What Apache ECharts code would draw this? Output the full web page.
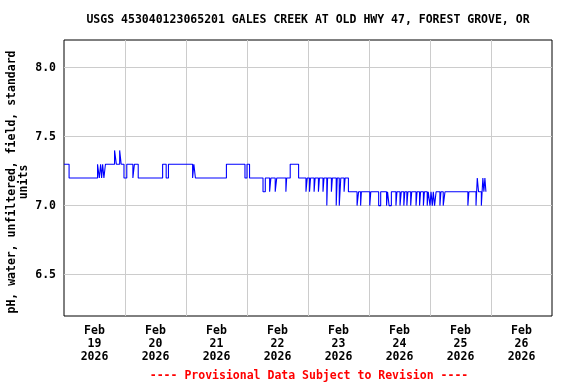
<!DOCTYPE html>
<html><head><meta charset="utf-8">
<script src="https://cdn.jsdelivr.net/npm/echarts@6/dist/echarts.min.js"></script>
<style>html,body{margin:0;padding:0;background:#fff}#c{width:576px;height:384px}</style>
</head><body><div id="c"></div>
<script>
const titleText = 'USGS 453040123065201 GALES CREEK AT OLD HWY 47, FOREST GROVE, OR';
const yTitleLine1 = 'pH, water, unfiltered, field, standard';
const yTitleLine2 = 'units';
const footerText = '---- Provisional Data Subject to Revision ----';
// hours since 2026-02-19 00:00
const dayCenters = [12, 36, 60, 84, 108, 132, 156, 180];
const dayLabels = ['Feb\n19\n2026', 'Feb\n20\n2026', 'Feb\n21\n2026', 'Feb\n22\n2026', 'Feb\n23\n2026', 'Feb\n24\n2026', 'Feb\n25\n2026', 'Feb\n26\n2026'];
const dayBounds = [24, 48, 72, 96, 120, 144, 168];
const yTicks = [6.5, 7.0, 7.5, 8.0];
const timeHours = [0, 2.0, 13.2, 13.9, 14.4, 14.8, 15.2, 15.7, 16.3, 19.9, 20.6, 21.9, 22.5, 23.6, 24.7, 27.1, 27.7, 29.2, 38.8, 40.2, 41.1, 50.6, 51.1, 51.7, 63.9, 71.2, 72.0, 73.0, 78.3, 79.2, 80.9, 81.4, 83.1, 83.7, 87.3, 87.6, 89.0, 92.3, 95.2, 95.7, 96.6, 97.0, 98.4, 98.8, 100.1, 100.5, 101.9, 102.3, 103.4, 103.7, 105.2, 105.6, 107.1, 107.5, 108.3, 108.9, 110.2, 110.6, 111.9, 115.3, 115.9, 116.7, 117.0, 120.3, 120.7, 123.8, 124.6, 126.9, 127.3, 127.9, 128.8, 130.6, 131.0, 132.2, 132.7, 133.7, 134.1, 134.9, 135.3, 136.4, 136.8, 138.5, 138.9, 139.9, 140.3, 141.4, 141.8, 142.9, 143.3, 144.0, 144.4, 144.9, 145.3, 145.8, 146.4, 147.9, 148.3, 149.2, 149.9, 158.9, 159.3, 162.1, 162.6, 163.1, 164.2, 164.5, 164.8, 165.2, 165.6, 166.0, 166.2];
const phValues = [7.3, 7.2, 7.3, 7.2, 7.3, 7.2, 7.3, 7.2, 7.3, 7.4, 7.3, 7.4, 7.3, 7.2, 7.3, 7.2, 7.3, 7.2, 7.3, 7.2, 7.3, 7.2, 7.3, 7.2, 7.3, 7.2, 7.3, 7.2, 7.1, 7.2, 7.1, 7.2, 7.1, 7.2, 7.1, 7.2, 7.3, 7.2, 7.1, 7.2, 7.1, 7.2, 7.1, 7.2, 7.1, 7.2, 7.1, 7.2, 7.0, 7.2, 7.1, 7.2, 7.0, 7.2, 7.0, 7.2, 7.1, 7.2, 7.1, 7.0, 7.1, 7.0, 7.1, 7.0, 7.1, 7.0, 7.1, 7.0, 7.1, 7.0, 7.1, 7.0, 7.1, 7.0, 7.1, 7.0, 7.1, 7.0, 7.1, 7.0, 7.1, 7.0, 7.1, 7.0, 7.1, 7.0, 7.1, 7.0, 7.1, 7.0, 7.1, 7.0, 7.1, 7.0, 7.1, 7.0, 7.1, 7.0, 7.1, 7.0, 7.1, 7.0, 7.2, 7.1, 7.0, 7.1, 7.2, 7.1, 7.2, 7.1, 7.1];

const FONT = 'DejaVu Sans Mono';
const chart = echarts.init(document.getElementById('c'), null, {renderer: 'canvas'});
chart.setOption({
  animation: false,
  backgroundColor: '#fff',
  grid: {left: 64, top: 40, width: 488, height: 276, show: true, borderColor: '#000', borderWidth: 1, backgroundColor: 'transparent'},
  xAxis: {
    type: 'value', min: 0, max: 192,
    axisLine: {show: false},
    axisTick: {show: false, customValues: dayBounds},
    splitLine: {show: true, lineStyle: {color: '#cccccc', width: 1}},
    axisLabel: {
      customValues: dayCenters,
      formatter: v => dayLabels[dayCenters.indexOf(v)] || '',
      fontFamily: FONT, fontWeight: 'bold', fontSize: 11.5, color: '#000',
      lineHeight: 13, margin: 9
    }
  },
  yAxis: {
    type: 'value', min: 6.2, max: 8.2,
    axisLine: {show: false},
    axisTick: {show: false, customValues: yTicks},
    splitLine: {show: true, lineStyle: {color: '#cccccc', width: 1}},
    axisLabel: {
      customValues: yTicks,
      formatter: v => v.toFixed(1),
      fontFamily: FONT, fontWeight: 'bold', fontSize: 11.5, color: '#000', margin: 8
    }
  },
  graphic: [
    {type: 'text', x: 308, y: 20, style: {text: titleText, font: 'bold 11.5px "' + FONT + '"', fill: '#000', textAlign: 'center', textVerticalAlign: 'middle'}},
    {type: 'text', x: 12, y: 182, rotation: Math.PI / 2, style: {text: yTitleLine1, font: 'bold 11.5px "' + FONT + '"', fill: '#000', textAlign: 'center', textVerticalAlign: 'middle'}},
    {type: 'text', x: 24, y: 182, rotation: Math.PI / 2, style: {text: yTitleLine2, font: 'bold 11.5px "' + FONT + '"', fill: '#000', textAlign: 'center', textVerticalAlign: 'middle'}},
    {type: 'text', x: 309, y: 376, style: {text: footerText, font: 'bold 11.5px "' + FONT + '"', fill: '#ff0000', textAlign: 'center', textVerticalAlign: 'middle'}}
  ],
  series: [{
    type: 'line', step: 'end', showSymbol: false, silent: true,
    data: timeHours.map((t, i) => [t, phValues[i]]),
    lineStyle: {color: '#0000ff', width: 1.1},
    z: 5
  }]
});
</script></body></html>
